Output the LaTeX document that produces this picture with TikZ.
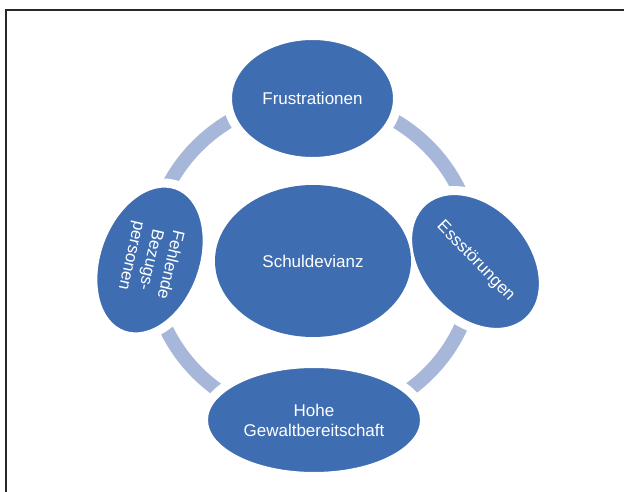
\documentclass[tikz,border=0pt]{standalone}
\usepackage{fontspec}
\setmainfont{Liberation Sans}
\usepackage{graphicx}
\usetikzlibrary{shapes.geometric,backgrounds}
\definecolor{nodeblue}{RGB}{62,109,177}
\definecolor{ringblue}{RGB}{167,183,217}
\definecolor{framegray}{RGB}{40,40,40}
\begin{document}
\begin{tikzpicture}[x=1pt,y=-1pt,
  blob/.style={ellipse, fill=nodeblue, draw=white, line width=9pt, text=white,
    font=\fontsize{17}{20}\selectfont, align=center, inner sep=0pt},
  ring/.style={draw=ringblue, line width=14pt}]
\useasboundingbox (0,0) rectangle (624,492);
\node[blob, minimum width=170pt, minimum height=126pt] (F) at (312.5,98.5) {Frustrationen};
\node[blob, minimum width=159pt, minimum height=115pt, rotate=-49] (E) at (475.5,261.5)
  {\rotatebox[origin=c]{3}{Essstörungen}};
\node[blob, minimum width=221pt, minimum height=113pt] (H) at (314,420) {Hohe\\Gewaltbereitschaft};
\node[blob, minimum width=159pt, minimum height=107pt, rotate=-110] (B) at (150,260)
  {\rotatebox[origin=c]{7}{\begin{tabular}{@{}c@{}}Fehlende\\Bezugs-\\personen\end{tabular}}};
\node[blob, draw=none, minimum width=196pt, minimum height=152pt] (S) at (313,261) {Schuldevianz};
\begin{scope}[on background layer]
  \fill[white] (0,0) rectangle (624,492);
  \draw[framegray, line width=1.3pt] (6,492) -- (6,10) -- (624,10);
  \draw[ring] (F.center) to[bend left=45] (E.center) to[bend left=45] (H.center)
    to[bend left=45] (B.center) to[bend left=45] (F.center);
\end{scope}
\end{tikzpicture}
\end{document}
